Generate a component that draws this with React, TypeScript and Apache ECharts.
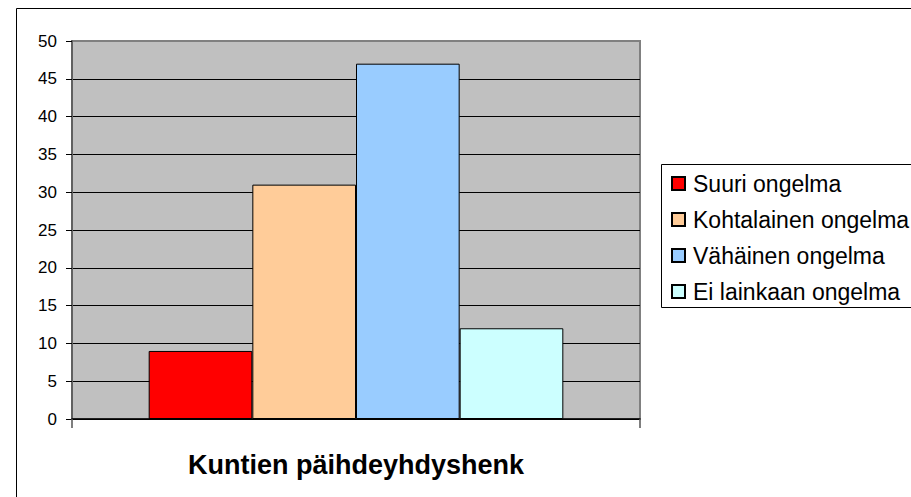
import React, { useEffect, useRef } from "react";
import * as echarts from "echarts";

const categories = ["Kuntien päihdeyhdyshenk"];
const seriesNames = ["Suuri ongelma", "Kohtalainen ongelma", "Vähäinen ongelma", "Ei lainkaan ongelma"];
const seriesValues = [9, 31, 47, 12];
const seriesColors = ["#FF0000", "#FFCC99", "#99CCFF", "#CCFFFF"];
const yMin = 0;
const yMax = 50;
const yInterval = 5;

const FONT = 'Arial, "Liberation Sans", sans-serif';

export default function App() {
  const ref = useRef<HTMLDivElement>(null);
  useEffect(() => {
    if (!ref.current) return;
    const chart = echarts.init(ref.current, undefined, { renderer: "svg" });
    const splitColors: string[] = [];
    for (let v = yMin; v <= yMax; v += yInterval) splitColors.push(v === yMax ? "#808080" : "#000000");
    chart.setOption({
      animation: false,
      backgroundColor: "#ffffff",
      textStyle: { fontFamily: FONT },
      graphic: [
        {
          type: "rect",
          z: 0,
          silent: true,
          shape: { x: 16.5, y: 8.5, width: 1000, height: 1000 },
          style: { fill: "none", stroke: "#000000", lineWidth: 1 },
        },
        {
          type: "rect",
          z: 1,
          silent: true,
          shape: { x: 661.5, y: 164.5, width: 400, height: 143 },
          style: { fill: "#ffffff", stroke: "#000000", lineWidth: 1 },
        },
      ],
      grid: {
        left: 72,
        top: 41,
        right: 271,
        bottom: 78,
        show: true,
        backgroundColor: "#C0C0C0",
        borderColor: "#808080",
        borderWidth: 2,
        containLabel: false,
      },
      legend: {
        orient: "vertical",
        left: 671,
        top: 172,
        padding: 0,
        itemWidth: 13,
        itemHeight: 13,
        itemGap: 13,
        icon: "rect",
        z: 5,
        data: seriesNames,
        textStyle: { fontSize: 23, lineHeight: 23, color: "#000000", fontFamily: FONT, padding: [0, 0, 0, 3] },
      },
      xAxis: {
        type: "category",
        data: categories,
        axisLine: { show: true, lineStyle: { color: "#000000", width: 1.5 } },
        axisTick: { show: true, length: 9, lineStyle: { color: "#555555", width: 1.5 } },
        axisLabel: {
          fontSize: 27,
          fontWeight: "bold",
          color: "#000000",
          margin: 32,
          fontFamily: FONT,
        },
      },
      yAxis: {
        type: "value",
        min: yMin,
        max: yMax,
        interval: yInterval,
        axisLine: { show: true, lineStyle: { color: "#606060", width: 2 } },
        axisTick: { show: true, length: 6, lineStyle: { color: "#000000", width: 1 } },
        axisLabel: { fontSize: 17, color: "#000000", margin: 15, fontFamily: FONT },
        splitLine: { show: true, lineStyle: { color: splitColors, width: 1 } },
      },
      series: seriesNames.map((name, i) => ({
        name,
        type: "bar",
        data: [seriesValues[i]],
        barGap: "0%",
        barCategoryGap: "27%",
        itemStyle: { color: seriesColors[i], borderColor: "#000000", borderWidth: 1 },
      })),
    });
    return () => chart.dispose();
  }, []);
  return (
    <div
      ref={ref}
      style={{ position: "fixed", left: 0, top: 0, width: 911, height: 497 }}
    />
  );
}
